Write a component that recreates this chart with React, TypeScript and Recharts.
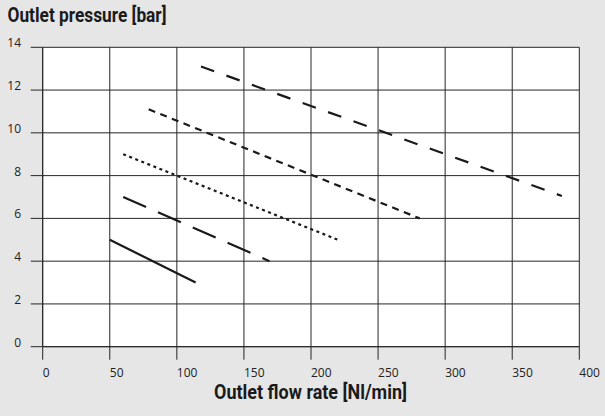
import React from "react";
import { LineChart, Line, XAxis, YAxis, CartesianGrid } from "recharts";

// Flow rate [Nl/min] and outlet pressure [bar] for each curve
const flowSolid = [50, 114];
const pressureSolid = [5, 3];
const flowLongDash = [60, 169];
const pressureLongDash = [7, 4];
const flowDotted = [60, 220];
const pressureDotted = [9, 5];
const flowShortDash = [79, 281];
const pressureShortDash = [11.1, 6];
const flowMediumDash = [118, 387];
const pressureMediumDash = [13.1, 7.05];

const xTicks = [0, 50, 100, 150, 200, 250, 300, 350, 400];
const yTicks = [0, 2, 4, 6, 8, 10, 12, 14];

const yTitle = "Outlet pressure [bar]";
const xTitle = "Outlet flow rate [Nl/min]";

const toPoints = (xs: number[], ys: number[]) => xs.map((x, i) => ({ x, y: ys[i] }));

const series = [
  { key: "solid", data: toPoints(flowSolid, pressureSolid), dash: undefined as string | undefined },
  { key: "longDash", data: toPoints(flowLongDash, pressureLongDash), dash: "25 13" },
  { key: "dotted", data: toPoints(flowDotted, pressureDotted), dash: "3 3.5" },
  { key: "shortDash", data: toPoints(flowShortDash, pressureShortDash), dash: "7 5.5" },
  { key: "mediumDash", data: toPoints(flowMediumDash, pressureMediumDash), dash: "14 13" },
];

const FONT = "'Open Sans', 'DejaVu Sans', sans-serif";
const BOLD = "Roboto, 'Open Sans', sans-serif";
const GRID = "#262626";
const INK = "#1a1a1a";

const XTick = (props: any) => {
  const { x, y, payload } = props;
  return (
    <text x={x} y={y + 17} textAnchor="start" fontFamily={FONT} fontSize={12} fill="#222">
      {payload.value}
    </text>
  );
};

const YTick = (props: any) => {
  const { x, y, payload } = props;
  return (
    <text x={x - 9.7} y={y} textAnchor="end" fontFamily={FONT} fontSize={12} fill="#222">
      {payload.value}
    </text>
  );
};

export default function App() {
  return (
    <div style={{ position: "fixed", left: 0, top: 0, width: 605, height: 416, background: "#e6e6e7" }}>
      <div style={{ position: "absolute", left: 0, top: 0 }}>
        <LineChart
          width={605}
          height={416}
          margin={{ top: 47.3, right: 25.7, left: 41.7, bottom: 68.3 }}
        >
          <CartesianGrid fill="#ffffff" stroke={GRID} strokeWidth={1} horizontalValues={yTicks} verticalValues={xTicks} />
          <XAxis
            type="number"
            dataKey="x"
            domain={[0, 400]}
            ticks={xTicks}
            interval={0}
            height={1}
            tickSize={13}
            tickMargin={0}
            axisLine={{ stroke: GRID }}
            tickLine={{ stroke: GRID }}
            tick={<XTick />}
            allowDataOverflow
          />
          <YAxis
            type="number"
            dataKey="y"
            domain={[0, 14]}
            ticks={yTicks}
            interval={0}
            width={1}
            tickSize={12}
            tickMargin={0}
            axisLine={{ stroke: GRID }}
            tickLine={{ stroke: GRID }}
            tick={<YTick />}
            allowDataOverflow
          />
          {series.map((s) => (
            <Line
              key={s.key}
              data={s.data}
              dataKey="y"
              type="linear"
              stroke={INK}
              strokeWidth={2.2}
              strokeDasharray={s.dash}
              dot={false}
              activeDot={false}
              isAnimationActive={false}
            />
          ))}
        </LineChart>
      </div>
      <svg width={605} height={416} style={{ position: "absolute", left: 0, top: 0, pointerEvents: "none" }}>
        <text
          x={7.5}
          y={21.7}
          fontFamily={BOLD}
          fontWeight="bold"
          fontSize={20}
          fill={INK}
          textLength={159}
          lengthAdjust="spacingAndGlyphs"
        >
          {yTitle}
        </text>
        <text
          x={214}
          y={398.5}
          fontFamily={BOLD}
          fontWeight="bold"
          fontSize={20}
          fill={INK}
          textLength={193}
          lengthAdjust="spacingAndGlyphs"
        >
          {xTitle}
        </text>
      </svg>
    </div>
  );
}
